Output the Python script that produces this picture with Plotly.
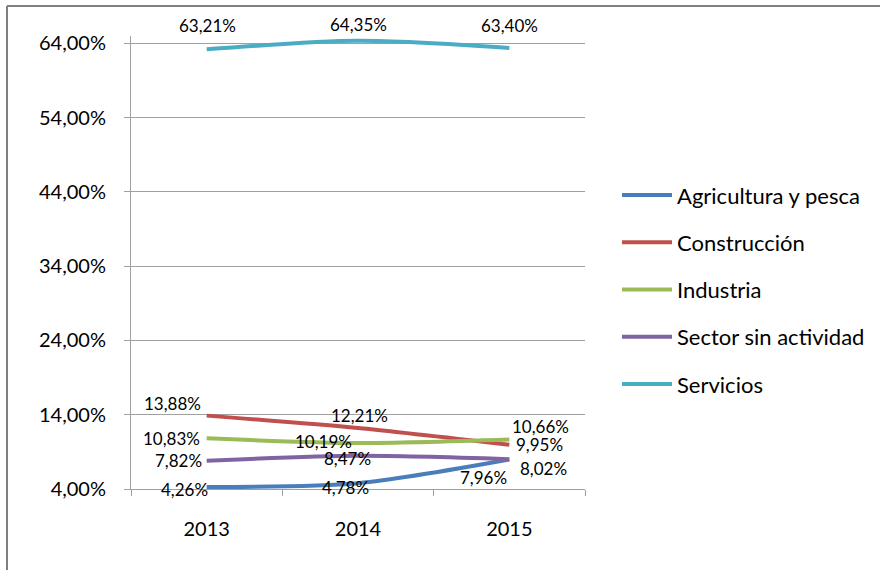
import plotly.graph_objects as go

years = ["2013", "2014", "2015"]
series_names = ["Agricultura y pesca", "Construcción", "Industria",
                "Sector sin actividad", "Servicios"]
agricultura = [4.26, 4.78, 7.96]
construccion = [13.88, 12.21, 9.95]
industria = [10.83, 10.19, 10.66]
sin_actividad = [7.82, 8.47, 8.02]
servicios = [63.21, 64.35, 63.40]
y_ticks = [4, 14, 24, 34, 44, 54, 64]

values = [agricultura, construccion, industria, sin_actividad, servicios]
colors = ["#4A7EBB", "#C0504D", "#9BBB59", "#8064A2", "#4BACC6"]

# label offsets (px) relative to each point: (xshift, yshift)
label_offsets = [
    [(-22, -2), (-13, -4), (-26, -18)],
    [(-34, 12), (1, 13), (30, 0)],
    [(-35, 0), (-35, 2), (31, 13)],
    [(-28, 0), (-11, -3), (34, -9)],
    [(1, 24), (0, 16), (0, 22)],
]

FONT = "Lato, Open Sans, Liberation Sans, sans-serif"

# plot-area geometry in pixels
W, H = 880, 570
L, R, T, B = 131, 295, 36, 81
PW, PH = W - L - R, H - T - B


def px_x(px):
    return (px - L) / PW


def px_y(py):
    return (H - B - py) / PH


fig = go.Figure()
for name, vals, col in zip(series_names, values, colors):
    fig.add_trace(go.Scatter(
        x=years, y=vals, name=name, mode="lines",
        line=dict(color=col, width=4, shape="spline", smoothing=0.8),
        showlegend=False,
    ))


def pct(v):
    return f"{v:.2f}".replace(".", ",") + "%"


annotations = []
for vals, offs in zip(values, label_offsets):
    for i, (v, (dx, dy)) in enumerate(zip(vals, offs)):
        annotations.append(dict(
            x=i, y=v, xref="x", yref="y", text=pct(v), showarrow=False,
            xshift=dx, yshift=dy,
            font=dict(family=FONT, size=17, color="#000"),
        ))

shapes = [
    # outer frame (left and top edges)
    dict(type="line", xref="paper", yref="paper",
         x0=px_x(7), x1=px_x(7), y0=px_y(6), y1=px_y(570),
         line=dict(color="#7F7F7F", width=2)),
    dict(type="line", xref="paper", yref="paper",
         x0=px_x(7), x1=px_x(880), y0=px_y(6), y1=px_y(6),
         line=dict(color="#7F7F7F", width=2)),
]

# legend drawn as line samples + labels
legend_top, legend_step = 195, 47.25
for k, (name, col) in enumerate(zip(series_names, colors)):
    yy = px_y(legend_top + k * legend_step)
    shapes.append(dict(type="line", xref="paper", yref="paper",
                       x0=px_x(622), x1=px_x(672), y0=yy, y1=yy,
                       line=dict(color=col, width=4)))
    annotations.append(dict(x=px_x(675), y=yy, xref="paper", yref="paper",
                            text=name, showarrow=False, xanchor="left",
                            yanchor="middle",
                            font=dict(family=FONT, size=22, color="#000")))

fig.update_layout(
    width=W, height=H,
    margin=dict(l=L, r=R, t=T, b=B),
    paper_bgcolor="white", plot_bgcolor="white",
    font=dict(family=FONT, color="#000"),
    showlegend=False,
    annotations=annotations,
    shapes=shapes,
)
fig.update_xaxes(
    type="category", showgrid=False, showline=True, linecolor="#A0A0A0",
    linewidth=1, ticks="outside", tickson="boundaries", ticklen=6,
    tickcolor="#A0A0A0", ticklabelstandoff=22,
    tickfont=dict(family=FONT, size=20, color="#000"),
    range=[-0.5, 2.5],
)
fig.update_yaxes(
    range=[4, 65], tickvals=y_ticks,
    ticktext=[f"{t:.2f}".replace(".", ",") + "%" for t in y_ticks],
    showgrid=True, gridcolor="#A0A0A0", gridwidth=1,
    showline=True, linecolor="#A0A0A0", linewidth=1,
    ticks="outside", ticklen=6, tickcolor="#A0A0A0", ticklabelstandoff=14,
    tickfont=dict(family=FONT, size=20, color="#000"), zeroline=False,
)

fig.write_html("out.html")
